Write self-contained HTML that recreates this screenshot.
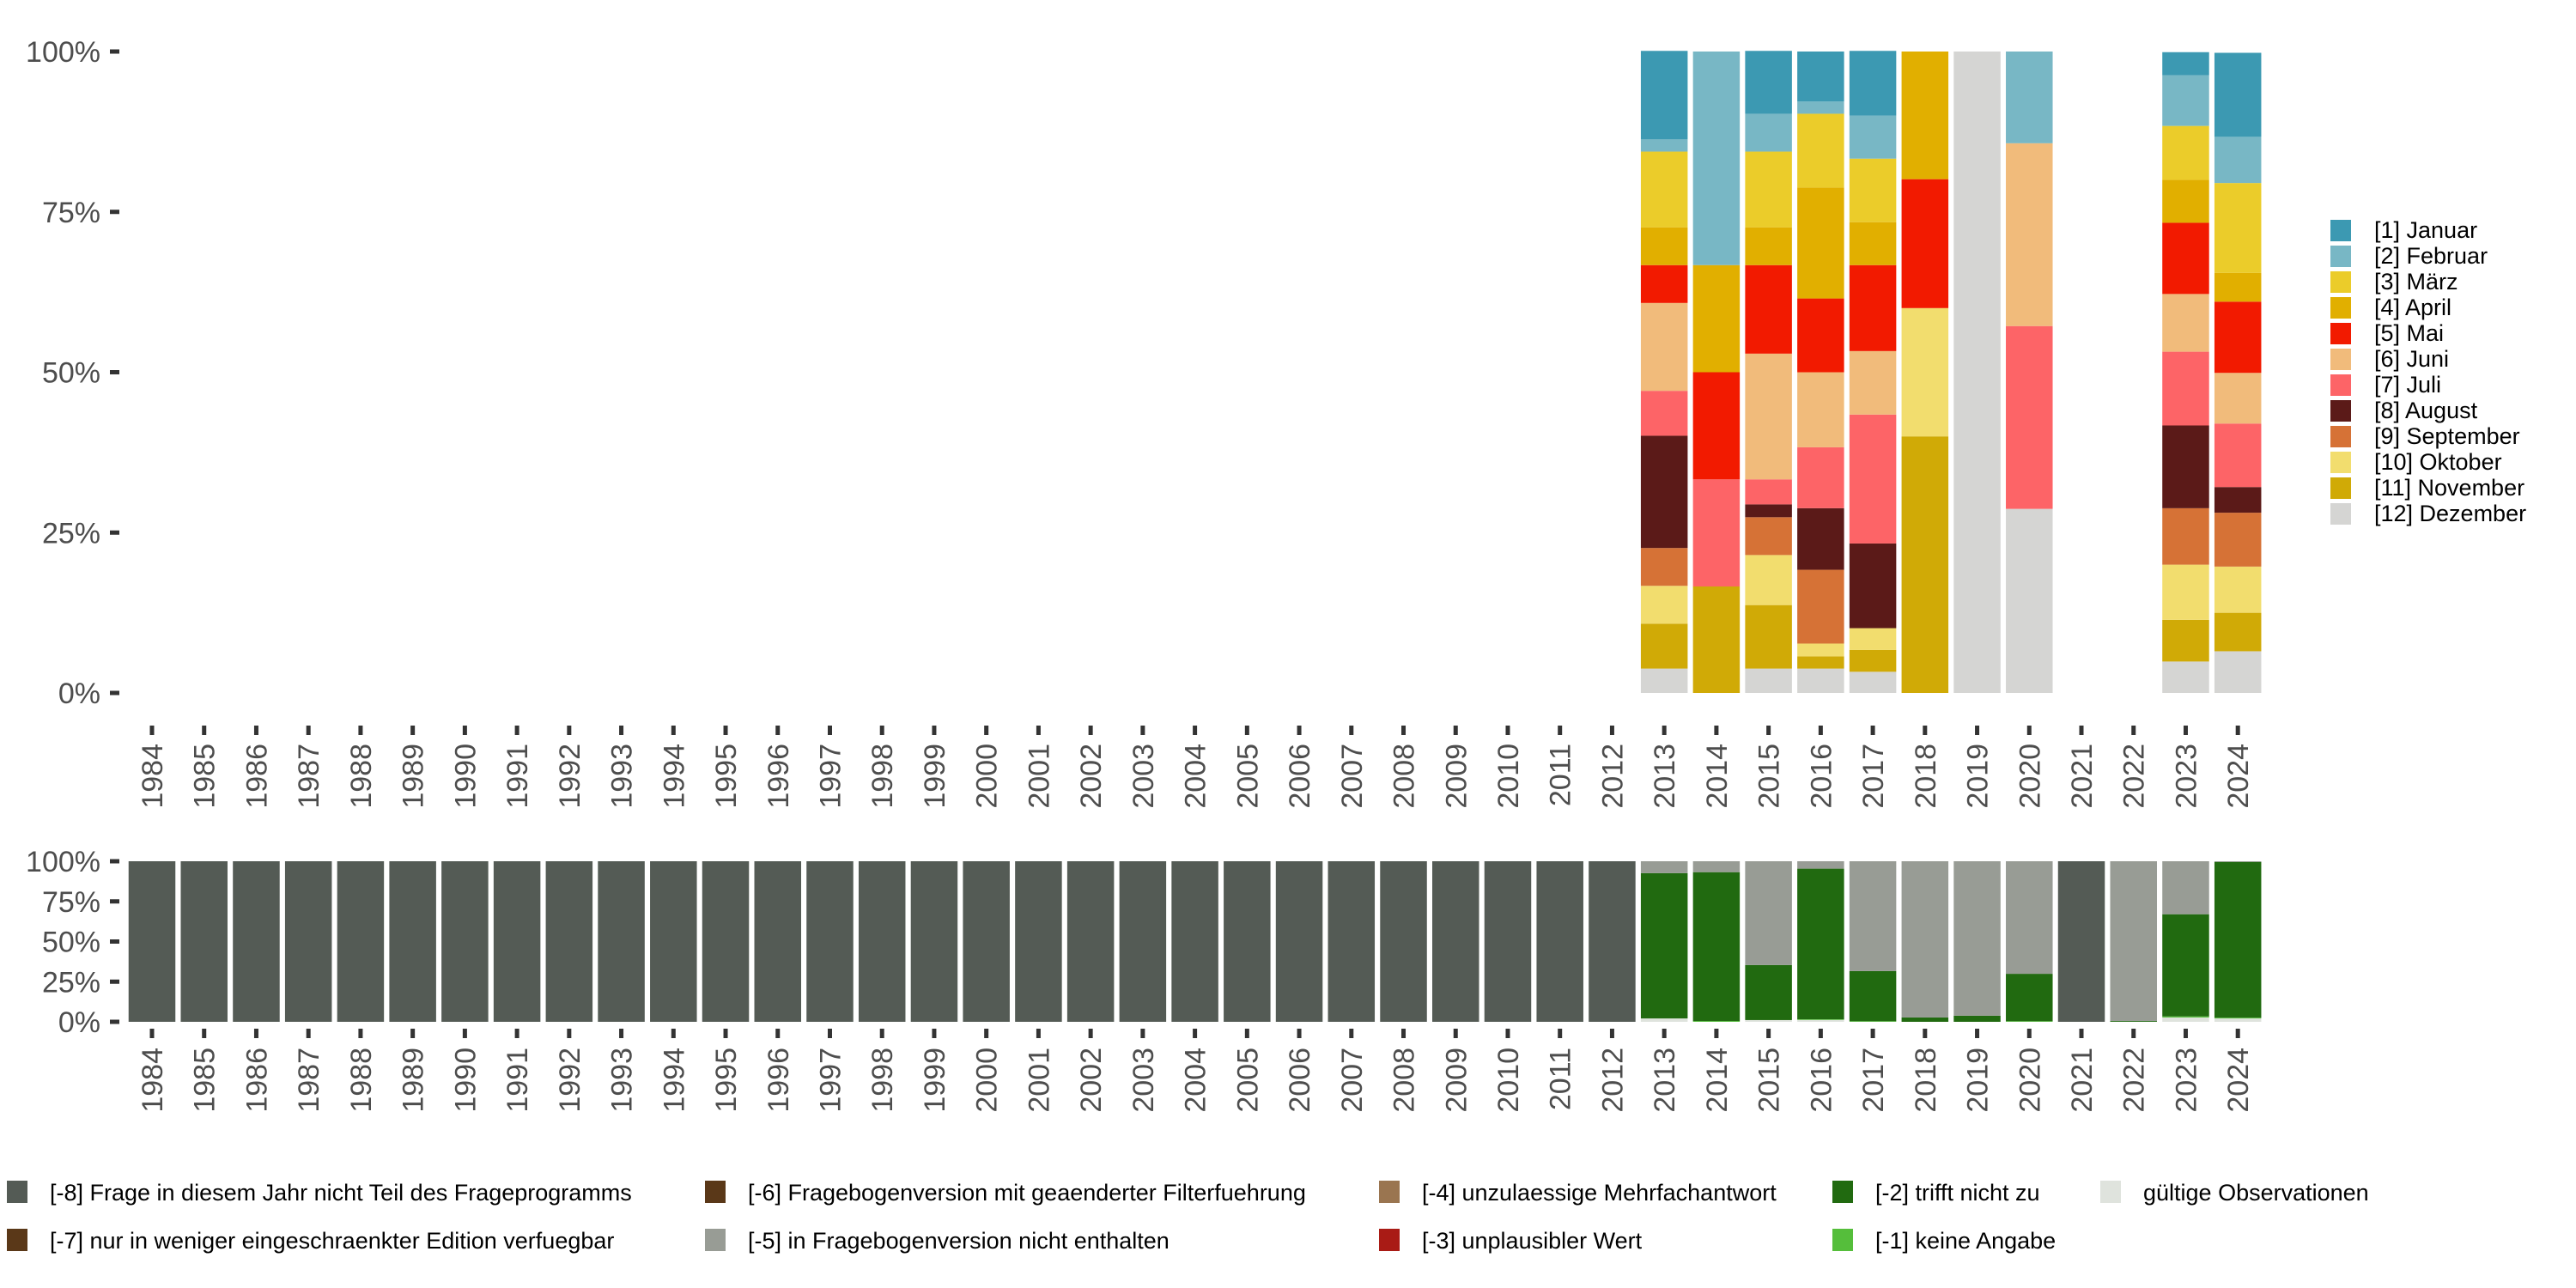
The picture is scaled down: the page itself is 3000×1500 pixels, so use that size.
<!DOCTYPE html>
<html><head><meta charset="utf-8">
<style>
html,body{margin:0;padding:0;background:#fff;}
svg{display:block;font-family:"Liberation Sans",sans-serif;}
</style></head>
<body>
<svg id="chart" width="3000" height="1500" viewBox="0 0 3000 1500" xmlns="http://www.w3.org/2000/svg"></svg>
<script>
const years = [];
for (let y = 1984; y <= 2024; y++) years.push(String(y));
const monthNames = ["[1] Januar","[2] Februar","[3] März","[4] April","[5] Mai","[6] Juni","[7] Juli","[8] August","[9] September","[10] Oktober","[11] November","[12] Dezember"];
const monthColors = ["#3c99b2","#78b7c5","#ebcc2a","#e1af00","#f21a00","#f1bb7b","#fd6467","#5b1a18","#d67236","#f2dd6e","#d0aa06","#d5d5d3"];
const monthYears = ["2013","2014","2015","2016","2017","2018","2019","2020","2023","2024"];
// month shares (Jan..Dez) per year, percent
const m2013 = [13.8,1.9,11.8,5.9,5.9,13.7,7.0,17.5,5.9,5.9,7.0,3.8];
const m2014 = [0,33.3,0,16.7,16.7,0,16.7,0,0,0,16.6,0];
const m2015 = [9.8,5.9,11.8,5.9,13.8,19.6,3.9,2.0,5.9,7.8,9.9,3.8];
const m2016 = [7.8,1.9,11.5,17.3,11.5,11.7,9.5,9.6,11.5,2.0,1.9,3.8];
const m2017 = [10.1,6.7,9.9,6.7,13.4,9.9,20.1,13.2,0,3.4,3.4,3.3];
const m2018 = [0,0,0,19.9,20.1,0,0,0,0,20.0,40.0,0];
const m2019 = [0,0,0,0,0,0,0,0,0,0,0,100];
const m2020 = [0,14.3,0,0,0,28.5,28.5,0,0,0,0,28.7];
const m2023 = [3.6,7.9,8.4,6.7,11.1,9.0,11.5,12.9,8.8,8.6,6.5,4.9];
const m2024 = [13.1,7.2,14.0,4.5,11.1,7.9,9.9,4.0,8.4,7.2,6.0,6.5];
const monthData = [m2013,m2014,m2015,m2016,m2017,m2018,m2019,m2020,m2023,m2024];

const statusNames = ["[-8] Frage in diesem Jahr nicht Teil des Frageprogramms","[-7] nur in weniger eingeschraenkter Edition verfuegbar","[-6] Fragebogenversion mit geaenderter Filterfuehrung","[-5] in Fragebogenversion nicht enthalten","[-4] unzulaessige Mehrfachantwort","[-3] unplausibler Wert","[-2] trifft nicht zu","[-1] keine Angabe","gültige Observationen"];
const statusColors = ["#545b55","#5a3818","#5a3818","#989c95","#9a7550","#a91b15","#216a10","#55be3b","#dfe3dd"];
// status shares per year (order -8,-7,-6,-5,-4,-3,-2,-1,valid)
const sNone = [100,0,0,0,0,0,0,0,0];
const s2013 = [0,0,0,7.4,0,0,90.5,0,2.1];
const s2014 = [0,0,0,6.8,0,0,92.7,0.5,0];
const s2015 = [0,0,0,64.6,0,0,34.3,0,1.1];
const s2016 = [0,0,0,4.6,0,0,93.8,0.4,1.2];
const s2017 = [0,0,0,68.4,0,0,31.2,0.4,0];
const s2018 = [0,0,0,97.3,0,0,2.7,0,0];
const s2019 = [0,0,0,96.2,0,0,3.8,0,0];
const s2020 = [0,0,0,70.1,0,0,29.5,0.4,0];
const s2021 = [100,0,0,0,0,0,0,0,0];
const s2022 = [0,0,0,99.5,0,0,0.5,0,0];
const s2023 = [0,0,0,33.0,0,0,63.6,0.7,2.7];
const s2024 = [0,0,0,0.4,0,0,97.0,0.5,2.1];
const statusLate = {"2013":s2013,"2014":s2014,"2015":s2015,"2016":s2016,"2017":s2017,"2018":s2018,"2019":s2019,"2020":s2020,"2021":s2021,"2022":s2022,"2023":s2023,"2024":s2024};
const yTicks = [0,25,50,75,100];
const yTickLabels = ["0%","25%","50%","75%","100%"];

const NS = "http://www.w3.org/2000/svg";
const svg = document.getElementById("chart");
function mk(tag, attrs, parent){ const e=document.createElementNS(NS,tag); for(const k in attrs) e.setAttribute(k,attrs[k]); (parent||svg).appendChild(e); return e; }

const X0 = 177, STEP = 60.73, BW = 54.5;
function xPos(i){ return X0 + i*STEP; }
function yTop(v){ return 807 - v/100*(807-60); }
function yBot(v){ return 1190 - v/100*(1190-1003); }

function axes(yf, tickTop, labelTop, prefix){
  const g = mk("g",{});
  
  
  yTicks.forEach((t,i)=>{
    const y = yf(t);
    const tk = mk("rect",{x:128,y:y-2.5,width:11,height:5,fill:"#333"},g);
    
    
    const tx = mk("text",{x:117,y:y+12,"text-anchor":"end","font-size":34,fill:"#4d4d4d"},g);
    
    
    tx.textContent = yTickLabels[i];
  });
  years.forEach((yr,i)=>{
    const x = xPos(i);
    const tk = mk("rect",{x:x-2.5,y:tickTop,width:5,height:11,fill:"#333"},g);
    
    
    const tx = mk("text",{x:0,y:0,"text-anchor":"end","font-size":34,fill:"#4d4d4d",transform:`translate(${x+12},${labelTop}) rotate(-90)`},g);
    
    
    tx.textContent = yr;
  });
}

// top chart
const topG = mk("g",{});


monthYears.forEach((yr,k)=>{
  const i = years.indexOf(yr);
  const vals = monthData[k];
  let cum = 0;
  for (let m = 11; m >= 0; m--) {
    const v = vals[m];
    if (v <= 0) continue;
    const y1 = yTop(cum), y2 = yTop(cum+v);
    const r = mk("rect",{x:xPos(i)-BW/2,y:y2,width:BW,height:y1-y2,fill:monthColors[m]},topG);
    
    
    cum += v;
  }
});
axes(yTop, 845, 866, 'top');

// bottom chart
const botG = mk("g",{});


years.forEach((yr,i)=>{
  const vals = statusLate[yr] || sNone;
  let cum = 0;
  for (let s = 8; s >= 0; s--) {
    const v = vals[s];
    if (v <= 0) continue;
    const y1 = yBot(cum), y2 = yBot(cum+v);
    const r = mk("rect",{x:xPos(i)-BW/2,y:y2,width:BW,height:y1-y2,fill:statusColors[s]},botG);
    
    
    cum += v;
  }
});
axes(yBot, 1198, 1220, 'bottom');

// right legend
const lg = mk("g",{});


monthNames.forEach((n,m)=>{
  const y = 256 + m*30;
  const sq = mk("rect",{x:2714,y:y,width:24,height:25,fill:monthColors[m]},lg);
  
  
  const t = mk("text",{x:2765,y:y+21,"font-size":27,fill:"#000"},lg);
  
  
  t.textContent = n;
});

// bottom legend
const bl = mk("g",{});


const colX = [8, 821, 1606, 2134, 2446];
const rowY = [1388, 1444];
const layout = [[0,0,0],[1,0,1],[2,1,0],[3,1,1],[4,2,0],[5,2,1],[6,3,0],[7,3,1],[8,4,0]];
layout.forEach(([s,c,r])=>{
  const x = colX[c], y = rowY[r];
  const sq = mk("rect",{x:x,y:y-13,width:24,height:26,fill:statusColors[s]},bl);
  
  
  const t = mk("text",{x:x+50,y:y+10,"font-size":27,fill:"#000"},bl);
  
  
  t.textContent = statusNames[s];
});
</script>
</body></html>
